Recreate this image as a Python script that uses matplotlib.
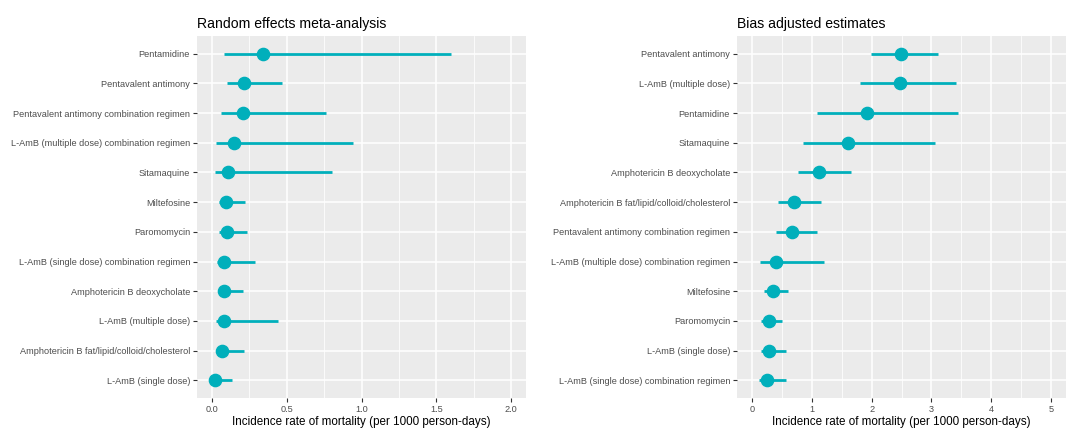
import matplotlib
matplotlib.use("Agg")
import matplotlib.pyplot as plt
from matplotlib.ticker import MultipleLocator

plt.rcParams['font.family'] = ['Liberation Sans', 'DejaVu Sans']

# Left panel: Random effects meta-analysis (top to bottom)
re_labels = [
    "Pentamidine",
    "Pentavalent antimony",
    "Pentavalent antimony combination regimen",
    "L-AmB (multiple dose) combination regimen",
    "Sitamaquine",
    "Miltefosine",
    "Paromomycin",
    "L-AmB (single dose) combination regimen",
    "Amphotericin B deoxycholate",
    "L-AmB (multiple dose)",
    "Amphotericin B fat/lipid/colloid/cholesterol",
    "L-AmB (single dose)",
]
re_est = [0.34, 0.215, 0.205, 0.15, 0.11, 0.095, 0.10, 0.08, 0.08, 0.08, 0.065, 0.02]
re_low = [0.08, 0.10, 0.06, 0.03, 0.02, 0.05, 0.05, 0.035, 0.04, 0.025, 0.025, 0.0]
re_high = [1.60, 0.47, 0.76, 0.94, 0.80, 0.22, 0.235, 0.285, 0.21, 0.44, 0.215, 0.135]

# Right panel: Bias adjusted estimates (top to bottom)
ba_labels = [
    "Pentavalent antimony",
    "L-AmB (multiple dose)",
    "Pentamidine",
    "Sitamaquine",
    "Amphotericin B deoxycholate",
    "Amphotericin B fat/lipid/colloid/cholesterol",
    "Pentavalent antimony combination regimen",
    "L-AmB (multiple dose) combination regimen",
    "Miltefosine",
    "Paromomycin",
    "L-AmB (single dose)",
    "L-AmB (single dose) combination regimen",
]
ba_est = [2.49, 2.48, 1.92, 1.60, 1.12, 0.70, 0.67, 0.40, 0.35, 0.28, 0.28, 0.25]
ba_low = [1.99, 1.80, 1.08, 0.85, 0.77, 0.43, 0.40, 0.13, 0.20, 0.15, 0.15, 0.11]
ba_high = [3.11, 3.41, 3.44, 3.06, 1.66, 1.15, 1.08, 1.20, 0.61, 0.51, 0.57, 0.575]

TEAL = "#00AFBB"
W, H = 1068, 428
fig = plt.figure(figsize=(W / 100, H / 100), dpi=100)


def panel(rect, labels, est, low, high, title, xmax, major, minor, fmt):
    ax = fig.add_axes(rect)
    ax.set_facecolor("#EBEBEB")
    n = len(labels)
    ys = list(range(n, 0, -1))
    ax.hlines(ys, low, high, color=TEAL, lw=2.0, zorder=3)
    ax.plot(est, ys, "o", color=TEAL, ms=8.8, zorder=4)
    ax.set_ylim(0.4, n + 0.6)
    ax.set_yticks(ys)
    ax.set_yticklabels(labels)
    exp = 0.05 * xmax
    ax.set_xlim(-exp, xmax + exp)
    ax.xaxis.set_minor_locator(MultipleLocator(minor))
    nt = int(round(xmax / major)) + 1
    ax.set_xticks([i * major for i in range(nt)])
    ax.set_xticklabels([fmt.format(i * major) for i in range(nt)])
    ax.grid(True, which="major", color="white", lw=1.1, zorder=0)
    ax.grid(True, which="minor", axis="x", color="white", lw=0.55, zorder=0)
    ax.set_axisbelow(True)
    for s in ax.spines.values():
        s.set_visible(False)
    ax.tick_params(axis="both", which="major", length=3, width=0.8, color="#333333",
                   labelcolor="#4D4D4D", labelsize=6.6, pad=2)
    ax.tick_params(axis="x", which="minor", length=0)
    ax.set_xlabel("Incidence rate of mortality (per 1000 person-days)", fontsize=8.4,
                  color="black", labelpad=1.5)
    ax.set_title(title, loc="left", fontsize=10.1, color="black", pad=6)
    return ax


panel([197 / W, 30 / H, 329 / W, 362 / H], re_labels, re_est, re_low, re_high,
      "Random effects meta-analysis", 2.0, 0.5, 0.25, "{:.1f}")
panel([737 / W, 30 / H, 329 / W, 362 / H], ba_labels, ba_est, ba_low, ba_high,
      "Bias adjusted estimates", 5.0, 1, 0.5, "{:.0f}")

fig.savefig("out.png", dpi=100)
